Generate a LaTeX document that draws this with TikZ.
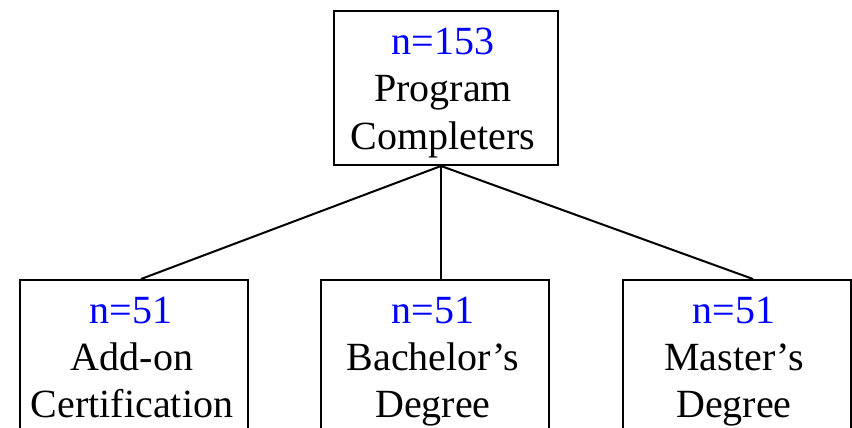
\documentclass[tikz,border=0pt]{standalone}
\usepackage{fontspec}
\setmainfont{Liberation Serif}
\begin{document}
\begin{tikzpicture}[x=1pt,y=-1pt,
  box/.style={draw,line width=2pt,inner sep=0pt,anchor=north west},
  txt/.style={anchor=base,inner sep=0pt,font=\fontsize{40}{47}\selectfont},
  num/.style={txt,text=blue},
  conn/.style={line width=2pt}]
\useasboundingbox (0,0) rectangle (852,428);
\fill[white] (0,0) rectangle (852,428);
% boxes
\node[box,minimum width=224pt,minimum height=154pt] (top) at (333,10) {};
\node[box,minimum width=228pt,minimum height=200pt] (b1) at (19,279) {};
\node[box,minimum width=228pt,minimum height=200pt] (b2) at (320,279) {};
\node[box,minimum width=228pt,minimum height=200pt] (b3) at (622,279) {};
% texts
\node[num] (t0) at (443,55) {n=153};
\node[txt] (t1) at (443,102) {Program};
\node[txt] (t2) at (443,149) {Completers};
\node[num] (l0) at (131,323) {n=51};
\node[txt] (l1) at (132,370) {Add-on};
\node[txt] (l2) at (132,417) {Certification};
\node[num] (m0) at (433,323) {n=51};
\node[txt] (m1) at (433,370) {Bachelor’s};
\node[txt] (m2) at (433,417) {Degree};
\node[num] (r0) at (734,323) {n=51};
\node[txt] (r1) at (734,370) {Master’s};
\node[txt] (r2) at (734,417) {Degree};
% connectors
\coordinate (apex) at (441,166);
\coordinate (e1) at (141,279);
\coordinate (e2) at (441,279);
\coordinate (e3) at (753,279);
\draw[conn] (e1) -- (apex) -- (e3);
\draw[conn] (apex) -- (e2);
\end{tikzpicture}
\end{document}
